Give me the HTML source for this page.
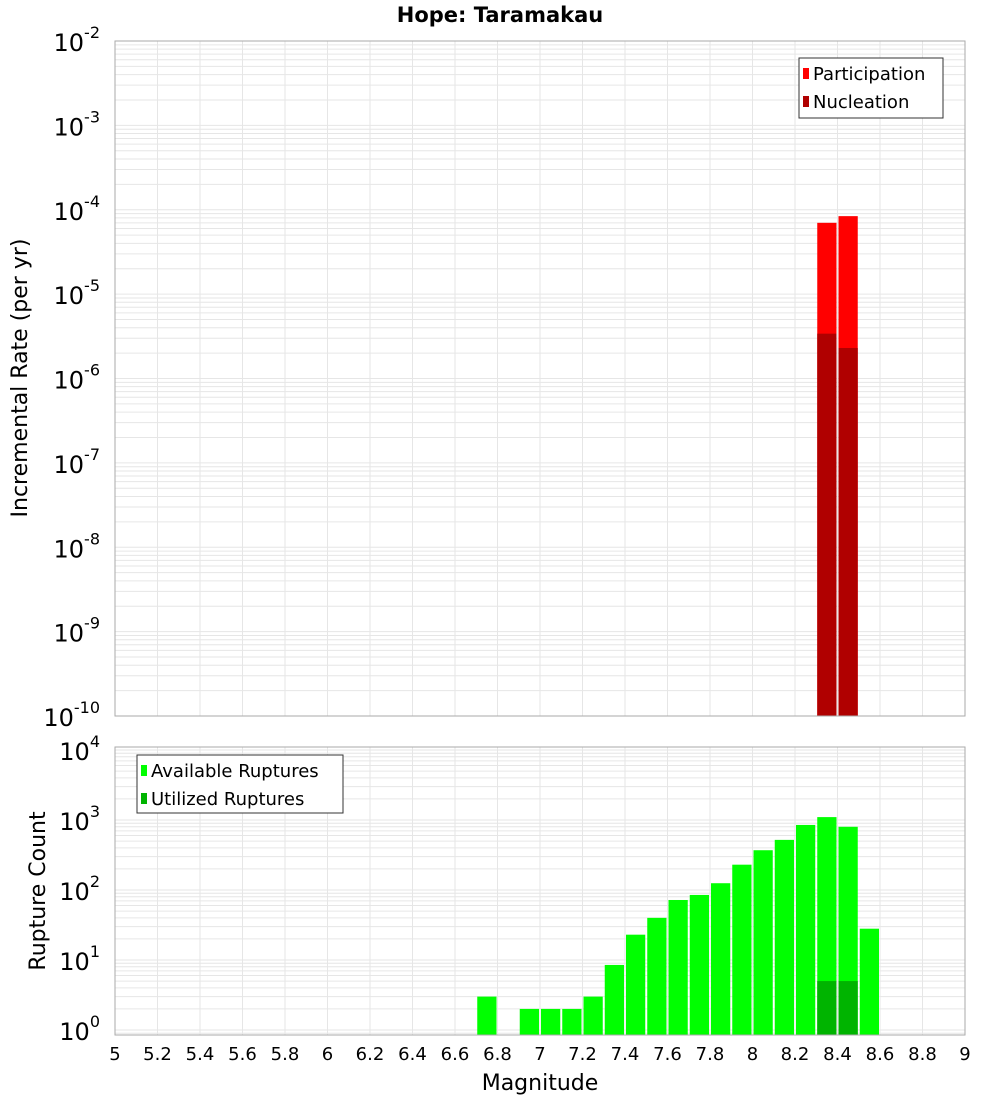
<!DOCTYPE html>
<html><head><meta charset="utf-8"><style>
body{margin:0;background:#fff;width:1000px;height:1100px;overflow:hidden;font-family:"DejaVu Sans","Liberation Sans",sans-serif}
</style></head><body>
<svg id="chart" width="1000" height="1100" xmlns="http://www.w3.org/2000/svg"></svg>
<script>
const magBins=[8.35,8.45];
const participation=[7e-5,8.4e-5];
const nucleation=[3.4e-6,2.3e-6];
const countBins=[6.75,6.95,7.05,7.15,7.25,7.35,7.45,7.55,7.65,7.75,7.85,7.95,8.05,8.15,8.25,8.35,8.45,8.55];
const available=[3,2,2,2,3,8.5,23,40,72,85,125,230,370,520,850,1100,800,28];
const utilizedBins=[8.35,8.45];
const utilized=[5,5];
const xTicks=[5,5.2,5.4,5.6,5.8,6,6.2,6.4,6.6,6.8,7,7.2,7.4,7.6,7.8,8,8.2,8.4,8.6,8.8,9];
const topDecades=[-2,-3,-4,-5,-6,-7,-8,-9,-10];
const botDecades=[4,3,2,1,0];

const NS="http://www.w3.org/2000/svg";
const svg=document.getElementById('chart');
function el(t,a,p){const e=document.createElementNS(NS,t);for(const k in a)e.setAttribute(k,a[k]);(p||svg).appendChild(e);return e;}
const L=115,R=965;
const x=v=>L+(v-5)/4*(R-L);
const T1=41,B1=716;
const yTop=v=>T1+(-2-Math.log10(v))*(B1-T1)/8;
const T2=747,B2=1035;
const yBot=v=>1030-Math.log10(v)*70;

function grid(top,bot,yf,lo,hi){
  for(let d=lo;d<hi;d++)for(let m=1;m<10;m++){const y=yf(m*Math.pow(10,d));if(y>=top&&y<=bot){const g=el('line',{x1:L,x2:R,y1:y,y2:y,stroke:'#e6e6e6','stroke-width':1});}}
  xTicks.forEach(t=>{const g=el('line',{x1:x(t),x2:x(t),y1:top,y2:bot,stroke:'#e6e6e6'});});
}
grid(T1,B1,yTop,-10,-1);
grid(T2,B2,yBot,-1,5);

const bw=x(5.1)-x(5)-2;
function bar(c,v,yf,bot,fill,name){const y=yf(v);const r=el('rect',{x:x(c)-bw/2,y:y,width:bw,height:bot-y,fill:fill});}
magBins.forEach((c,i)=>bar(c,participation[i],yTop,B1,'#ff0000','participation-bar'));
magBins.forEach((c,i)=>bar(c,nucleation[i],yTop,B1,'#b00000','nucleation-bar'));
countBins.forEach((c,i)=>bar(c,available[i],yBot,B2,'#00ff00','available-bar'));
utilizedBins.forEach((c,i)=>bar(c,utilized[i],yBot,B2,'#00b400','utilized-bar'));

const f1=el('rect',{x:L,y:T1,width:R-L,height:B1-T1,fill:'none',stroke:'#aaa'});

const f2=el('rect',{x:L,y:T2,width:R-L,height:B2-T2,fill:'none',stroke:'#aaa'});


function ylabel(d,y){const t=el('text',{x:100,y:y+10,'text-anchor':'end','font-size':24});
 t.textContent='10';const s=el('tspan',{dy:-13,'font-size':16},t);s.textContent=String(d).replace('-','-');}
topDecades.forEach(d=>ylabel(d,yTop(Math.pow(10,d))));
botDecades.forEach(d=>ylabel(d,yBot(Math.pow(10,d))));

xTicks.forEach(t=>{const e=el('text',{x:x(t),y:1060,'text-anchor':'middle','font-size':18});e.textContent=String(t);});

function txt(s,a,name){const e=el('text',a);e.textContent=s;return e;}
txt('Hope: Taramakau',{x:500,y:22,'text-anchor':'middle','font-size':21,'font-weight':'bold'},'chart-title');
txt('Magnitude',{x:540,y:1090,'text-anchor':'middle','font-size':22},'x-axis-title');
txt('Incremental Rate (per yr)',{x:0,y:0,'text-anchor':'middle','font-size':22,transform:'translate(27,378) rotate(-90)'},'top-y-axis-title');
txt('Rupture Count',{x:0,y:0,'text-anchor':'middle','font-size':22,transform:'translate(45,891) rotate(-90)'},'bottom-y-axis-title');

function legend(bx,by,w,h,items,name){const g=el('g',{});
 el('rect',{x:bx,y:by,width:w,height:h,fill:'#fff',stroke:'#333'},g);
 items.forEach((it,i)=>{const cy=by+15+i*28;el('rect',{x:bx+4,y:cy-5,width:6,height:11,fill:it[1]},g);const t=el('text',{x:bx+14,y:cy+7,'font-size':18},g);t.textContent=it[0];});}
legend(799,58,144,60,[['Participation','#ff0000'],['Nucleation','#b00000']],'top-legend');
legend(137,755,206,58,[['Available Ruptures','#00ff00'],['Utilized Ruptures','#00b400']],'bottom-legend');
</script>
</body></html>
